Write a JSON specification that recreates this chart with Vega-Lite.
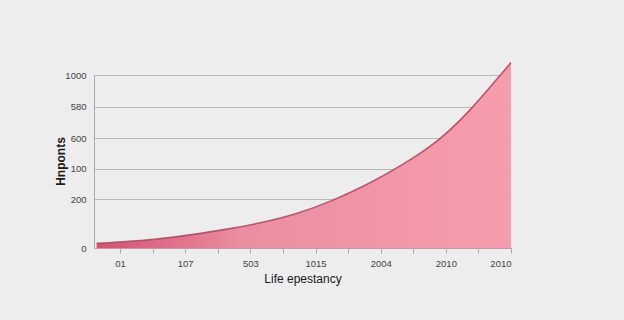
{
  "$schema": "https://vega.github.io/schema/vega-lite/v6.json",
  "width": 417,
  "height": 173,
  "autosize": {"type": "none"},
  "padding": {"left": 94, "top": 75, "right": 113, "bottom": 72},
  "background": "#ededed",
  "config": {
    "view": {"stroke": null},
    "axis": {
      "labelFont": "Liberation Sans",
      "labelFontSize": 9.5,
      "labelColor": "#444444",
      "titleFont": "Liberation Sans",
      "titleColor": "#1a1a1a",
      "domainColor": "#a8a8a8",
      "tickColor": "#a8a8a8",
      "gridColor": "#b8b8b8"
    }
  },
  "data": {
    "values": [
      {"t": -0.72, "v": 27},
      {"t": 0.1, "v": 36},
      {"t": 1.13, "v": 52},
      {"t": 2.15, "v": 76},
      {"t": 3.38, "v": 112},
      {"t": 4.41, "v": 150},
      {"t": 5.44, "v": 201},
      {"t": 6.46, "v": 271},
      {"t": 7.49, "v": 360},
      {"t": 8.31, "v": 443},
      {"t": 8.92, "v": 512},
      {"t": 9.8, "v": 630},
      {"t": 10.75, "v": 800},
      {"t": 11.63, "v": 990},
      {"t": 12, "v": 1072}
    ]
  },
  "encoding": {
    "x": {
      "field": "t",
      "type": "quantitative",
      "scale": {"domain": [-0.8, 12], "nice": false, "zero": false},
      "axis": {
        "title": "Life epestancy",
        "titleFontSize": 12,
        "titleFontWeight": 500,
        "titlePadding": 6,
        "values": [0, 1, 2, 3, 4, 5, 6, 7, 8, 9, 10, 11, 12],
        "labelExpr": "datum.value==0?'01':datum.value==2?'107':datum.value==4?'503':datum.value==6?'1015':datum.value==8?'2004':datum.value==10?'2010':datum.value==12?'2010':''",
        "grid": false,
        "tickSize": 5,
        "labelPadding": 5,
        "labelOverlap": false
      }
    },
    "y": {
      "field": "v",
      "type": "quantitative",
      "scale": {"domain": [0, 1000], "nice": false},
      "axis": {
        "title": "Hnponts",
        "titleFontSize": 12,
        "titleFontWeight": "bold",
        "titleX": -27,
        "titleY": 86,
        "values": [0, 281, 457, 634, 817, 1000],
        "labelExpr": "datum.value==1000?'1000':datum.value==817?'580':datum.value==634?'600':datum.value==457?'100':datum.value==281?'200':'0'",
        "grid": true,
        "ticks": false,
        "labelPadding": 8
      }
    }
  },
  "layer": [
    {
      "mark": {
        "type": "area",
        "interpolate": "natural",
        "fill": {
          "gradient": "linear",
          "x1": 0, "y1": 0.5, "x2": 1, "y2": 0.5,
          "stops": [
            {"offset": 0, "color": "#d4506f"},
            {"offset": 0.35, "color": "#ea8ea2"},
            {"offset": 1, "color": "#f59dad"}
          ]
        }
      }
    },
    {
      "mark": {"type": "line", "interpolate": "natural", "color": "#c23a5c", "strokeWidth": 1.6, "opacity": 0.85}
    }
  ]
}
